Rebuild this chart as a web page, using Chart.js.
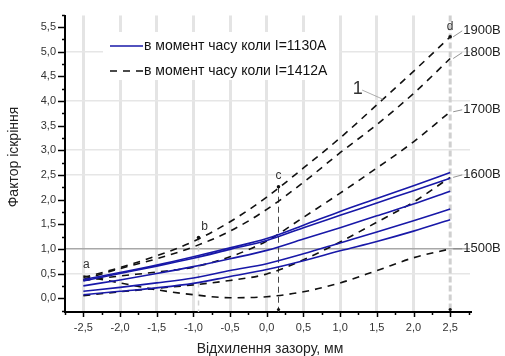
<!DOCTYPE html>
<html>
<head>
<meta charset="utf-8">
<script src="https://cdn.jsdelivr.net/npm/chart.js@4.4.0/dist/chart.umd.min.js"></script>
<style>
  html, body { margin: 0; padding: 0; background: #fff; }
  #wrap { width: 505px; height: 356px; }
</style>
</head>
<body>
<div id="wrap"><canvas id="chart" width="505" height="356"></canvas></div>
<script>
// відхилення зазору, мм
const gapDeviation = [-2.5, -2.0, -1.5, -1.0, -0.5, 0.0, 0.5, 1.0, 1.5, 2.0, 2.5];

// I = 1130A (суцільні сині лінії)
const blue1 = [0.38, 0.52, 0.67, 0.84, 1.02, 1.21, 1.48, 1.76, 2.02, 2.28, 2.55];
const blue2 = [0.35, 0.50, 0.65, 0.81, 0.99, 1.17, 1.43, 1.68, 1.93, 2.18, 2.43];
const blue3 = [0.25, 0.37, 0.50, 0.64, 0.80, 0.97, 1.20, 1.43, 1.67, 1.91, 2.17];
const blue4 = [0.14, 0.22, 0.31, 0.41, 0.56, 0.70, 0.90, 1.12, 1.34, 1.57, 1.81];
const blue5 = [0.07, 0.14, 0.21, 0.30, 0.44, 0.58, 0.76, 0.96, 1.15, 1.36, 1.59];

// I = 1412A (пунктир), по напрузі
const dash1900 = [0.42, 0.62, 0.86, 1.15, 1.55, 2.05, 2.64, 3.25, 3.92, 4.60, 5.30];
const dash1800 = [0.38, 0.60, 0.80, 1.04, 1.36, 1.80, 2.35, 2.95, 3.52, 4.15, 4.86];
const dash1700 = [0.36, 0.45, 0.53, 0.63, 0.84, 1.16, 1.64, 2.13, 2.64, 3.17, 3.78];
const dash1600 = [0.05, 0.13, 0.20, 0.27, 0.36, 0.49, 0.78, 1.14, 1.54, 1.95, 2.45];
const dash1500 = [0.45, 0.31, 0.17, 0.07, 0.01, 0.03, 0.13, 0.31, 0.56, 0.82, 1.00];

// підписи напруги праворуч
const voltageLabels = ['1900В', '1800В', '1700В', '1600В', '1500В'];
const voltageLabelY = [5.42, 4.98, 3.82, 2.50, 1.00];
const voltageEnds = [5.30, 4.86, 3.78, 2.45, 1.00];

// точки a, b, c, d
const markNames = ['a', 'b', 'c', 'd'];
const markX = [-2.5, -0.93, 0.16, 2.5];
const markY = [0.42, 1.23, 2.26, 5.30];

const legendLabels = ['в момент часу коли I=1130А', 'в момент часу коли I=1412А'];
const yGridValues = [0.5, 2.5, 3.0, 4.0, 5.0];

const FONT = '"Liberation Sans", Arial, sans-serif';
const BLUE = '#1818a8';

function toPoints(ys) {
  return gapDeviation.map((x, i) => ({ x: x, y: ys[i] }));
}
function fmt(v) {
  return (Math.round(v * 10) / 10).toFixed(1).replace('.', ',');
}

function solid(ys) {
  return {
    data: toPoints(ys), borderColor: BLUE, borderWidth: 1.6,
    pointRadius: 0, cubicInterpolationMode: 'monotone', fill: false
  };
}
function dashed(ys) {
  return {
    data: toPoints(ys), borderColor: '#111', borderWidth: 1.6, borderDash: [7, 6],
    pointRadius: 0, cubicInterpolationMode: 'monotone', fill: false
  };
}

// білий фон легенди поверх сітки
const legendBox = {
  id: 'legendBox',
  beforeDatasetsDraw(chart) {
    const ctx = chart.ctx;
    ctx.save();
    ctx.fillStyle = '#fff';
    ctx.fillRect(103, 32, 236, 48);
    ctx.restore();
  }
};

// вертикальні пунктири, мітки, підписи, мінорні риски
const extras = {
  id: 'extras',
  beforeDatasetsDraw(chart) {
    const ctx = chart.ctx;
    const xs = chart.scales.x, ys = chart.scales.y;
    const bottom = chart.chartArea.bottom;
    ctx.save();
    // d line
    ctx.strokeStyle = '#cfcfcf';
    ctx.lineWidth = 3;
    ctx.setLineDash([6, 3]);
    ctx.beginPath();
    ctx.moveTo(xs.getPixelForValue(2.5), chart.chartArea.top);
    ctx.lineTo(xs.getPixelForValue(2.5), bottom);
    ctx.stroke();
    // b line
    ctx.lineWidth = 1.5;
    ctx.strokeStyle = '#d0d0d0';
    ctx.setLineDash([5, 4]);
    ctx.beginPath();
    ctx.moveTo(xs.getPixelForValue(markX[1]), ys.getPixelForValue(markY[1]));
    ctx.lineTo(xs.getPixelForValue(markX[1]), bottom);
    ctx.stroke();
    // c line
    ctx.lineWidth = 1;
    ctx.strokeStyle = '#444';
    ctx.setLineDash([6, 4]);
    ctx.beginPath();
    ctx.moveTo(xs.getPixelForValue(markX[2]), ys.getPixelForValue(markY[2]));
    ctx.lineTo(xs.getPixelForValue(markX[2]), bottom);
    ctx.stroke();
    ctx.restore();
  },
  afterDraw(chart) {
    const ctx = chart.ctx;
    const xs = chart.scales.x, ys = chart.scales.y;
    const area = chart.chartArea;
    ctx.save();

    // мінорні та основні риски
    ctx.strokeStyle = '#000';
    ctx.lineWidth = 1.5;
    for (let v = -2.75; v <= 2.76; v += 0.25) {
      const px = Math.round(xs.getPixelForValue(v)) + 0.5;
      const major = Math.abs(v * 2 - Math.round(v * 2)) < 1e-6;
      ctx.beginPath();
      ctx.moveTo(px, area.bottom);
      ctx.lineTo(px, area.bottom + (major ? 5 : 3));
      ctx.stroke();
    }
    for (let v = -0.25; v <= 5.76; v += 0.25) {
      const py = Math.round(ys.getPixelForValue(v)) + 0.5;
      if (py < area.top - 1) continue;
      const major = Math.abs(v * 2 - Math.round(v * 2)) < 1e-6;
      ctx.beginPath();
      ctx.moveTo(area.left, py);
      ctx.lineTo(area.left - (major ? 7 : 3), py);
      ctx.stroke();
    }

    // точки b, c, d та на осі
    ctx.fillStyle = '#111';
    for (let i = 1; i < 4; i++) {
      ctx.beginPath();
      ctx.arc(xs.getPixelForValue(markX[i]), ys.getPixelForValue(markY[i]), 1.8, 0, Math.PI * 2);
      ctx.fill();
    }
    [markX[2], markX[3]].forEach(v => {
      ctx.beginPath();
      ctx.arc(xs.getPixelForValue(v), area.bottom - 2.5, 1.6, 0, Math.PI * 2);
      ctx.fill();
    });

    // літери
    ctx.fillStyle = '#333';
    ctx.font = '12px ' + FONT;
    ctx.textAlign = 'center';
    ctx.textBaseline = 'middle';
    const labelOffsets = [[3, -13], [6, -11], [0, -11], [0, -10]];
    markNames.forEach((n, i) => {
      ctx.fillText(n, xs.getPixelForValue(markX[i]) + labelOffsets[i][0],
        ys.getPixelForValue(markY[i]) + labelOffsets[i][1]);
    });

    // мітка "1" з виноскою
    ctx.strokeStyle = '#999';
    ctx.lineWidth = 0.8;
    ctx.beginPath();
    ctx.moveTo(xs.getPixelForValue(1.3), ys.getPixelForValue(4.22));
    ctx.lineTo(xs.getPixelForValue(1.59), ys.getPixelForValue(4.03));
    ctx.stroke();
    ctx.fillStyle = '#333';
    ctx.font = '18px ' + FONT;
    ctx.fillText('1', xs.getPixelForValue(1.24), ys.getPixelForValue(4.24));

    // підписи напруги
    ctx.font = '13px ' + FONT;
    ctx.textAlign = 'left';
    const tx = xs.getPixelForValue(2.5) + 13;
    voltageLabels.forEach((t, i) => {
      const ty = ys.getPixelForValue(voltageLabelY[i]);
      ctx.strokeStyle = '#777';
      ctx.lineWidth = 0.8;
      ctx.beginPath();
      ctx.moveTo(xs.getPixelForValue(2.5) + 3, ys.getPixelForValue(voltageEnds[i]));
      ctx.lineTo(tx - 1, ty);
      ctx.stroke();
      ctx.fillStyle = '#222';
      ctx.fillText(t, tx, ty);
    });

    // легенда
    ctx.strokeStyle = BLUE;
    ctx.lineWidth = 1.6;
    ctx.beginPath();
    ctx.moveTo(110, 46);
    ctx.lineTo(143, 46);
    ctx.stroke();
    ctx.strokeStyle = '#111';
    ctx.setLineDash([7, 6]);
    ctx.beginPath();
    ctx.moveTo(110, 71);
    ctx.lineTo(143, 71);
    ctx.stroke();
    ctx.setLineDash([]);
    ctx.fillStyle = '#111';
    ctx.font = '14px ' + FONT;
    ctx.fillText(legendLabels[0], 144, 46);
    ctx.fillText(legendLabels[1], 144, 71);

    // назви осей
    ctx.fillStyle = '#222';
    ctx.font = '14px ' + FONT;
    ctx.textAlign = 'center';
    ctx.fillText('Відхилення зазору, мм', 270, 349);
    ctx.translate(14, 157);
    ctx.rotate(-Math.PI / 2);
    ctx.fillText('Фактор іскріння', 0, 0);
    ctx.restore();
  }
};

const chart = new Chart(document.getElementById('chart'), {
  type: 'line',
  data: {
    datasets: [
      solid(blue1), solid(blue2), solid(blue3), solid(blue4), solid(blue5),
      dashed(dash1900), dashed(dash1800), dashed(dash1700), dashed(dash1600), dashed(dash1500)
    ]
  },
  options: {
    responsive: false,
    animation: false,
    devicePixelRatio: 1,
    layout: { padding: { top: 12, right: 35, left: 0, bottom: 0 } },
    plugins: { legend: { display: false }, tooltip: { enabled: false } },
    scales: {
      x: {
        type: 'linear',
        min: -2.75,
        max: 2.77,
        afterFit: s => { s.height = 44; },
        border: { color: '#000', width: 2 },
        grid: {
          drawTicks: false,
          color: c => (c.tick && c.tick.value > 2.4 ? 'rgba(0,0,0,0)' : '#e4e4e4'),
          lineWidth: 3
        },
        ticks: {
          stepSize: 0.5,
          includeBounds: false,
          padding: 9,
          maxRotation: 0,
          color: '#333',
          font: { size: 11, family: FONT },
          callback: v => fmt(v)
        }
      },
      y: {
        type: 'linear',
        min: -0.28,
        max: 5.73,
        afterFit: s => { s.width = 65; },
        border: { color: '#000', width: 2 },
        grid: {
          drawTicks: false,
          color: c => {
            const v = c.tick ? c.tick.value : null;
            if (v !== null && Math.abs(v - 1) < 1e-6) return '#a8a8a8';
            if (v !== null && yGridValues.some(g => Math.abs(g - v) < 1e-6)) return '#e6e6e6';
            return 'rgba(0,0,0,0)';
          },
          lineWidth: 1.5
        },
        ticks: {
          stepSize: 0.5,
          includeBounds: false,
          padding: 9,
          color: '#333',
          font: { size: 11, family: FONT },
          callback: v => fmt(v)
        }
      }
    }
  },
  plugins: [legendBox, extras]
});
</script>
</body>
</html>
